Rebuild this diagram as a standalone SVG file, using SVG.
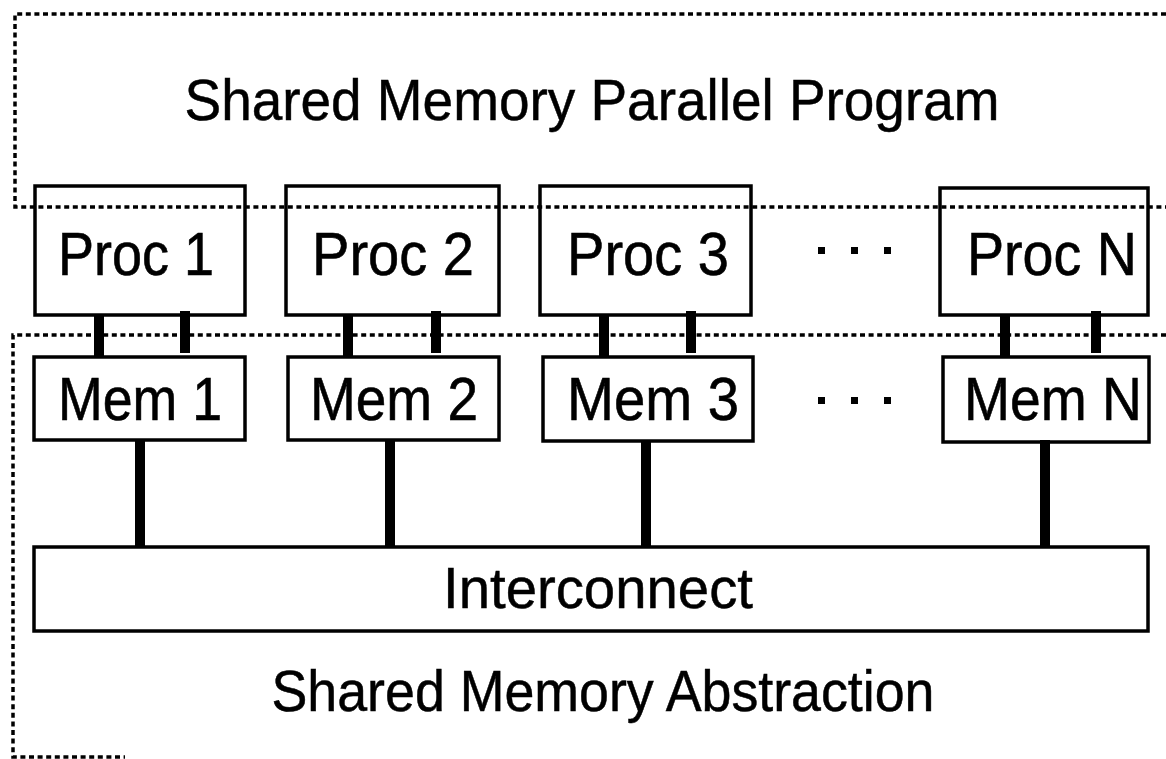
<svg xmlns="http://www.w3.org/2000/svg" width="1166" height="759" viewBox="0 0 1166 759">
<style>
.box{fill:none;stroke:#000;stroke-width:3.5}
.dot{fill:none;stroke:#000;stroke-width:3.5;stroke-dasharray:5 3.6}
.lbl{font-family:"Liberation Sans",Arial,sans-serif;font-size:61px;fill:#000;stroke:#000;stroke-width:0.6;text-anchor:middle}
.big{font-family:"Liberation Sans",Arial,sans-serif;font-size:58px;fill:#000;stroke:#000;stroke-width:0.5;text-anchor:middle}
.bar{stroke:#000;stroke-width:10}
.ell{fill:#000}
</style>
<rect width="1166" height="759" fill="#fff"/>
<g id="connectors">
<line class="bar" x1="99" y1="314" x2="99" y2="357"/>
<line class="bar" x1="185" y1="311" x2="185" y2="353"/>
<line class="bar" x1="348" y1="314" x2="348" y2="357"/>
<line class="bar" x1="436" y1="311" x2="436" y2="353"/>
<line class="bar" x1="604" y1="314" x2="604" y2="357"/>
<line class="bar" x1="691" y1="311" x2="691" y2="353"/>
<line class="bar" x1="1005" y1="314" x2="1005" y2="357"/>
<line class="bar" x1="1096" y1="311" x2="1096" y2="353"/>
<line class="bar" x1="140" y1="440" x2="140" y2="547"/>
<line class="bar" x1="390" y1="440" x2="390" y2="547"/>
<line class="bar" x1="646" y1="440" x2="646" y2="547"/>
<line class="bar" x1="1045" y1="440" x2="1045" y2="547"/>
</g>
<g id="proc1"><rect class="box" x="35" y="186" width="210" height="129"/><text class="lbl" x="136" y="275" textLength="156" lengthAdjust="spacingAndGlyphs">Proc 1</text></g>
<g id="proc2"><rect class="box" x="286" y="186" width="213" height="129"/><text class="lbl" x="393" y="275" textLength="162" lengthAdjust="spacingAndGlyphs">Proc 2</text></g>
<g id="proc3"><rect class="box" x="540" y="186" width="211" height="129"/><text class="lbl" x="648" y="275" textLength="162" lengthAdjust="spacingAndGlyphs">Proc 3</text></g>
<g id="procN"><rect class="box" x="940" y="188" width="208" height="127"/><text class="lbl" x="1052" y="275" textLength="170" lengthAdjust="spacingAndGlyphs">Proc N</text></g>
<g id="mem1"><rect class="box" x="34" y="357" width="211" height="83"/><text class="lbl" x="140" y="420" textLength="164" lengthAdjust="spacingAndGlyphs">Mem 1</text></g>
<g id="mem2"><rect class="box" x="288" y="357" width="211" height="83"/><text class="lbl" x="394" y="420" textLength="168" lengthAdjust="spacingAndGlyphs">Mem 2</text></g>
<g id="mem3"><rect class="box" x="543" y="357" width="210" height="84"/><text class="lbl" x="653" y="420" textLength="172" lengthAdjust="spacingAndGlyphs">Mem 3</text></g>
<g id="memN"><rect class="box" x="943" y="357" width="206" height="85"/><text class="lbl" x="1053" y="420" textLength="178" lengthAdjust="spacingAndGlyphs">Mem N</text></g>
<g id="interconnect"><rect class="box" x="34" y="547" width="1114" height="84"/><text class="big" x="598" y="608" textLength="310" lengthAdjust="spacingAndGlyphs">Interconnect</text></g>
<g id="ellipsis-proc"><rect class="ell" x="818" y="247" width="7" height="7"/><rect class="ell" x="851" y="247" width="7" height="7"/><rect class="ell" x="884" y="247" width="7" height="7"/></g>
<g id="ellipsis-mem"><rect class="ell" x="818" y="397" width="7" height="7"/><rect class="ell" x="851" y="397" width="7" height="7"/><rect class="ell" x="884" y="397" width="7" height="7"/></g>
<g id="program-region"><path class="dot" d="M1166 14 H15 V207 H1166"/><text class="big" x="592" y="120" textLength="815" lengthAdjust="spacingAndGlyphs">Shared Memory Parallel Program</text></g>
<g id="abstraction-region"><path class="dot" d="M1166 335 H13 V757 H125"/><text class="big" x="603" y="711" textLength="663" lengthAdjust="spacingAndGlyphs">Shared Memory Abstraction</text></g>
</svg>
